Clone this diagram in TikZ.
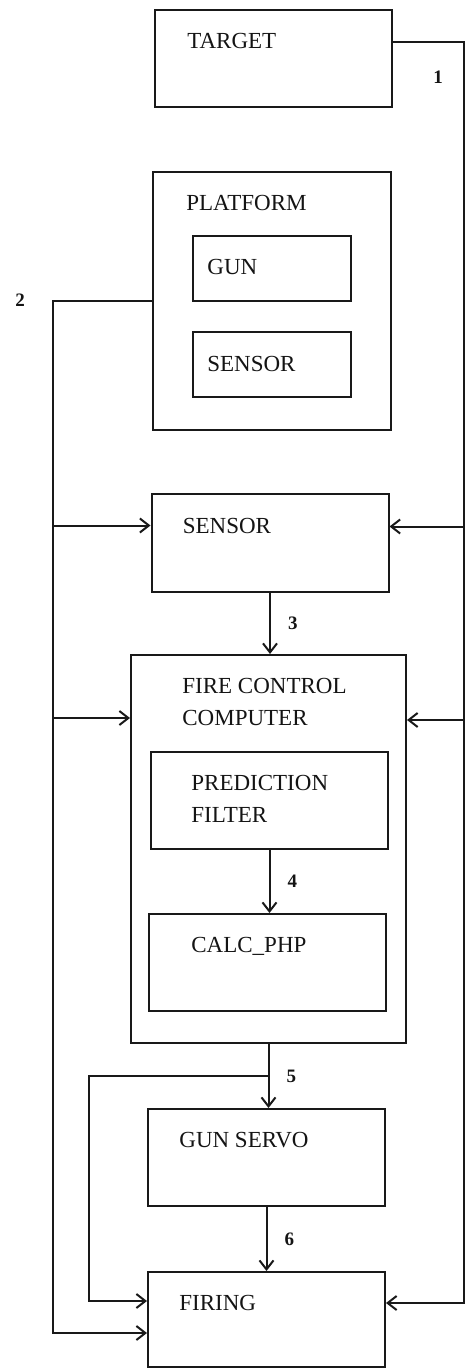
\documentclass[tikz,border=0pt]{standalone}
\usepackage{fontspec}
\setmainfont{Liberation Serif}
\usetikzlibrary{
  arrows.meta,
  positioning
}
\definecolor{linecolor}{RGB}{25, 25, 25}
\definecolor{labelcolor}{RGB}{20, 20, 20}
\tikzset{
boxtext/.style={
  anchor=north west,
  inner sep=0pt,
  align=left,
  yshift=-12pt,
  font=\fontsize{11.5}{16}\selectfont,
  text=labelcolor
},
block/.style={
  draw=linecolor,
  line width=1pt,
  minimum width=118.5pt,
  minimum height=48.5pt
},
smallblock/.style={
  block,
  minimum width=79pt,
  minimum height=32.5pt
},
num/.style={
  inner sep=0pt,
  font=\fontsize{9.5}{11}\selectfont\bfseries,
  text=labelcolor
},
line/.style={
  draw=linecolor,
  line width=1pt
},
arrow/.style={
  line,
  -{Straight Barb[length=4.5pt,width=7pt,line width=1pt]}
}
}

\begin{document}
\begin{tikzpicture}[x=0.5pt, y=-0.5pt]
  \useasboundingbox (0,0) rectangle (469,1368);

  % boxes
  \node[block, label={[boxtext, xshift=16.5pt]north west:TARGET}] (target) at (273.5,58.5) {};
  \node[block, minimum width=119pt, minimum height=129pt,
        label={[boxtext, xshift=17pt]north west:PLATFORM}] (platform) at (272,301) {};
  \node[smallblock, label={[boxtext, xshift=7.5pt]north west:GUN}] (platgun) at (272,268.5) {};
  \node[smallblock, label={[boxtext, xshift=7.5pt]north west:SENSOR}] (platsensor) at (272,365) {};
  \node[block, label={[boxtext, xshift=16pt]north west:SENSOR}] (sensor) at (270,543) {};
  \node[block, minimum width=137.5pt, minimum height=194pt,
        label={[boxtext, xshift=26pt]north west:{FIRE CONTROL\\COMPUTER}}] (fcc) at (268.5,849) {};
  \node[block, label={[boxtext, xshift=20.5pt]north west:{PREDICTION\\FILTER}}] (predict) at (269.5,800.5) {};
  \node[block, label={[boxtext, xshift=21.5pt]north west:CALC\_PHP}] (calc) at (267.5,962.5) {};
  \node[block, label={[boxtext, xshift=16pt]north west:GUN SERVO}] (servo) at (266.5,1157.5) {};
  \node[block, minimum height=47.5pt, label={[boxtext, xshift=16pt]north west:FIRING}] (firing) at (266.5,1319.5) {};

  % bus lines and entry points
  \coordinate (rbus) at (464,0);
  \coordinate (lbus) at (53,0);
  \coordinate (gbus) at (89,1076);
  \coordinate (targetR) at ([yshift=8.25pt]target.east);
  \coordinate (sensorL) at ([yshift=-16pt]sensor.north west);
  \coordinate (sensorR) at ([yshift=-16.5pt]sensor.north east);
  \coordinate (fccL) at ([yshift=-32pt]fcc.north west);
  \coordinate (fccR) at ([yshift=-33pt]fcc.north east);
  \coordinate (firingA) at ([yshift=-15pt]firing.north west);
  \coordinate (firingB) at ([yshift=-31pt]firing.north west);
  \coordinate (firingR) at ([yshift=-16pt]firing.north east);

  % main chain
  \draw[arrow] (sensor.south) -- (sensor.south |- fcc.north) node[num, midway, right=8.5pt] (n3) {3};
  \draw[arrow] (predict.south) -- (predict.south |- calc.north) node[num, midway, right=8.5pt] (n4) {4};
  \draw[arrow] (fcc.south) -- (fcc.south |- servo.north) node[num, midway, right=8.5pt] (n5) {5};
  \draw[arrow] (servo.south) -- (servo.south |- firing.north) node[num, midway, right=8.5pt] (n6) {6};

  % target feed
  \draw[arrow] (targetR) -- (targetR -| rbus) |- (firingR);
  \draw[arrow] (sensorR -| rbus) -- (sensorR);
  \draw[arrow] (fccR -| rbus) -- (fccR);
  \node[num] (n1) at (438,77) {1};

  % platform feed
  \draw[arrow] (platform.west) -- (platform.west -| lbus) |- (firingB);
  \draw[arrow] (sensorL -| lbus) -- (sensorL);
  \draw[arrow] (fccL -| lbus) -- (fccL);
  \node[num] (n2) at (20,300) {2};

  % servo bypass
  \draw[arrow] (fcc.south |- gbus) -- (gbus) |- (firingA);
\end{tikzpicture}
\end{document}
